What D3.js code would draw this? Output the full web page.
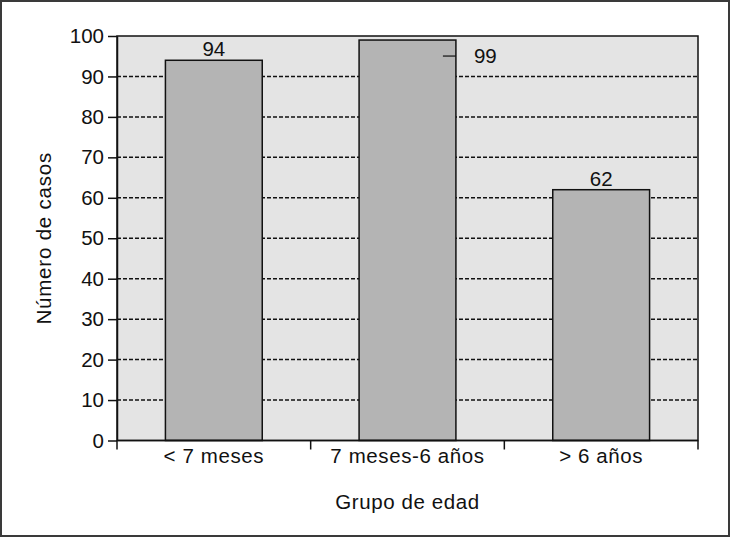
<!DOCTYPE html>
<html>
<head>
<meta charset="utf-8">
<script src="https://cdn.jsdelivr.net/npm/d3@7"></script>
<style>
  body { margin: 0; background: #fff; }
  svg { display: block; font-family: "Liberation Sans", Arial, sans-serif; }
</style>
</head>
<body>
<svg width="730" height="537"></svg>
<script>
// data
const categories = ['< 7 meses', '7 meses-6 años', '> 6 años'];
const values = [94, 99, 62];
const yTicks = [0, 10, 20, 30, 40, 50, 60, 70, 80, 90, 100];

const svg = d3.select('svg');
const W = 730, H = 537;
const FS = 20.5;
const margin = { top: 36, right: 32, bottom: 96.5, left: 117 };
const plotW = W - margin.left - margin.right;
const plotH = H - margin.top - margin.bottom;

// outer frame
svg.append('rect')
  .attr('x', 1).attr('y', 1)
  .attr('width', W - 2).attr('height', H - 2)
  .attr('fill', '#fff')
  .attr('stroke', '#3a3a3a')
  .attr('stroke-width', 2);

const g = svg.append('g')
  .attr('transform', `translate(${margin.left},${margin.top})`);

const x = d3.scaleBand()
  .domain(categories)
  .range([0, plotW])
  .paddingInner(0.5)
  .paddingOuter(0.25);

const y = d3.scaleLinear()
  .domain([0, 100])
  .range([plotH, 0]);

// plot background
g.append('rect')
  .attr('width', plotW).attr('height', plotH)
  .attr('fill', '#e4e4e4');

// dashed grid
g.append('g')
  .selectAll('line')
  .data(yTicks.filter(d => d > 0 && d < 100))
  .enter()
  .append('line')
  .attr('x1', 0).attr('x2', plotW)
  .attr('y1', d => y(d)).attr('y2', d => y(d))
  .attr('stroke', '#111')
  .attr('stroke-width', 1.5)
  .attr('stroke-dasharray', '4,2');

// bars
g.append('g')
  .selectAll('rect')
  .data(values)
  .enter()
  .append('rect')
  .attr('x', (d, i) => x(categories[i]))
  .attr('y', d => y(d))
  .attr('width', x.bandwidth())
  .attr('height', d => plotH - y(d))
  .attr('fill', '#b4b4b4')
  .attr('stroke', '#111')
  .attr('stroke-width', 1.5);

// plot frame (top + right)
g.append('rect')
  .attr('width', plotW).attr('height', plotH)
  .attr('fill', 'none')
  .attr('stroke', '#111')
  .attr('stroke-width', 1.5);

// y axis
const yAxis = g.append('g')
  .call(d3.axisLeft(y).tickValues(yTicks).tickSize(9).tickPadding(4).tickSizeOuter(0));
yAxis.select('.domain').attr('stroke', '#111').attr('stroke-width', 1.5);
yAxis.selectAll('.tick line').attr('stroke', '#111').attr('stroke-width', 1.5);
yAxis.selectAll('text')
  .attr('font-size', FS)
  .attr('fill', '#111')
  .attr('font-family', '"Liberation Sans", Arial, sans-serif');

// x axis: ticks at band boundaries
const xAxis = g.append('g')
  .attr('transform', `translate(0,${plotH})`);
xAxis.append('line')
  .attr('x1', 0).attr('x2', plotW)
  .attr('stroke', '#111').attr('stroke-width', 1.5);
const bounds = d3.range(categories.length + 1).map(i => i * x.step());
xAxis.selectAll('.bound')
  .data(bounds)
  .enter()
  .append('line')
  .attr('class', 'bound')
  .attr('x1', d => d).attr('x2', d => d)
  .attr('y1', 0).attr('y2', 9)
  .attr('stroke', '#111').attr('stroke-width', 1.5);
xAxis.selectAll('.cat')
  .data(categories)
  .enter()
  .append('text')
  .attr('class', 'cat')
  .attr('x', d => x(d) + x.bandwidth() / 2)
  .attr('y', 22)
  .attr('text-anchor', 'middle')
  .attr('font-size', FS)
  .attr('letter-spacing', 0.6)
  .attr('fill', '#111')
  .text(d => d);

// value labels
values.forEach((v, i) => {
  const cx = x(categories[i]) + x.bandwidth() / 2;
  if (i === 1) {
    // leader line to the right of the bar
    const xr = x(categories[i]) + x.bandwidth();
    g.append('line')
      .attr('x1', xr - 13).attr('x2', xr)
      .attr('y1', y(v) + 16).attr('y2', y(v) + 16)
      .attr('stroke', '#111').attr('stroke-width', 1.2);
    g.append('text')
      .attr('x', xr + 18)
      .attr('y', y(v) + 23)
      .attr('font-size', FS)
      .attr('fill', '#111')
      .text(v);
  } else {
    g.append('text')
      .attr('x', cx)
      .attr('y', y(v) - 4)
      .attr('text-anchor', 'middle')
      .attr('font-size', FS)
      .attr('fill', '#111')
      .text(v);
  }
});

// axis titles
svg.append('text')
  .attr('transform', `translate(51,${margin.top + plotH / 2}) rotate(-90)`)
  .attr('text-anchor', 'middle')
  .attr('font-size', FS)
  .attr('letter-spacing', 0.8)
  .attr('fill', '#111')
  .text('Número de casos');

svg.append('text')
  .attr('x', margin.left + plotW / 2)
  .attr('y', 509)
  .attr('text-anchor', 'middle')
  .attr('font-size', FS)
  .attr('letter-spacing', 0.6)
  .attr('fill', '#111')
  .text('Grupo de edad');
</script>
</body>
</html>
